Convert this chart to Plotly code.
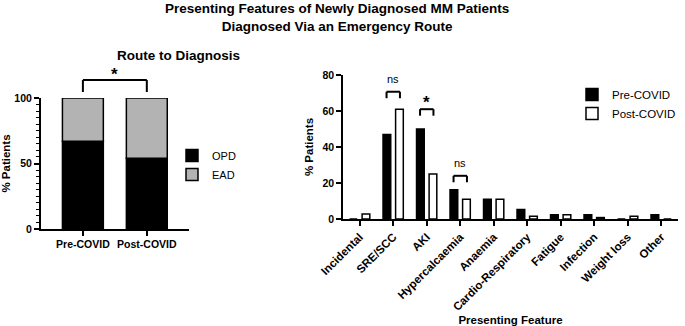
import plotly.graph_objects as go

# ---- Data ----
route_groups = ["Pre-COVID", "Post-COVID"]
opd_pct = [67, 54]
ead_pct = [33, 46]

features = ["Incidental", "SRE/SCC", "AKI", "Hypercalcaemia", "Anaemia",
            "Cardio-Respiratory", "Fatigue", "Infection", "Weight loss", "Other"]
pre_covid = [0, 47, 50, 16.3, 11, 5.3, 2.4, 2.4, 0, 2.4]
post_covid = [2.8, 61, 25, 11, 11, 1.5, 2.4, 0.8, 1.5, 0]

sig_features = ["SRE/SCC", "AKI", "Hypercalcaemia"]
sig_labels = ["ns", "*", "ns"]
sig_heights = [70.7, 61, 24]

left_sig_label = "*"

# ---- Style ----
W, H = 685, 326
FONT = "Liberation Sans, Arial, Helvetica, sans-serif"
BLACK = "#000000"
GREY = "#b3b3b3"

def px_x(p):
    return p / W

def px_y(p):
    return 1 - p / H

left_xrange = [-0.66, 1.66]
left_yrange = [0, 100]

fig = go.Figure()

fig.add_trace(go.Bar(
    x=route_groups, y=opd_pct, name="OPD", width=0.64,
    marker=dict(color=BLACK, line=dict(color=BLACK, width=1.5)),
    xaxis="x", yaxis="y", legend="legend"))
fig.add_trace(go.Bar(
    x=route_groups, y=ead_pct, base=opd_pct, name="EAD", width=0.64,
    marker=dict(color=GREY, line=dict(color=BLACK, width=1.5)),
    xaxis="x", yaxis="y", legend="legend"))

fig.add_trace(go.Bar(
    x=features, y=pre_covid, name="Pre-COVID", width=0.23, offset=-0.305,
    marker=dict(color=BLACK, line=dict(color=BLACK, width=1.5)),
    xaxis="x2", yaxis="y2", legend="legend2"))
fig.add_trace(go.Bar(
    x=features, y=post_covid, name="Post-COVID", width=0.23, offset=0.07,
    marker=dict(color="white", line=dict(color=BLACK, width=1.5)),
    xaxis="x2", yaxis="y2", legend="legend2"))

tickfont = dict(family=FONT, size=10.5, color=BLACK, weight="bold")
tickfont2 = dict(family=FONT, size=11.5, color=BLACK, weight="bold")
titlefont = dict(family=FONT, size=11.5, color=BLACK, weight="bold")
axis_common = dict(showline=True, linecolor=BLACK, linewidth=1.5, ticks="outside",
                   ticklen=5, tickwidth=1.5, tickcolor=BLACK, showgrid=False,
                   zeroline=False, fixedrange=True, automargin=False)

fig.update_layout(
    width=W, height=H,
    margin=dict(l=0, r=0, t=0, b=0),
    paper_bgcolor="white", plot_bgcolor="white",
    barmode="overlay",
    showlegend=True,
    hovermode=False,
    xaxis=dict(domain=[px_x(40.7), px_x(189)], range=left_xrange, type="category",
               anchor="y", tickfont=tickfont, **axis_common),
    yaxis=dict(domain=[px_y(229), px_y(98)], range=left_yrange, dtick=50, anchor="x",
               tickfont=tickfont,
               minor=dict(dtick=5, ticklen=3, tickwidth=1.2, tickcolor=BLACK, ticks="outside"),
               title=dict(text="% Patients", font=titlefont, standoff=4),
               **axis_common),
    xaxis2=dict(domain=[px_x(343), px_x(678)], range=[-0.5, 9.5], type="category",
                tickangle=-45, anchor="y2", tickfont=tickfont2,
                title=dict(text="Presenting Feature", font=titlefont, standoff=10),
                **axis_common),
    yaxis2=dict(domain=[px_y(219), px_y(75)], range=[0, 80], dtick=20, anchor="x2",
                tickfont=tickfont,
                title=dict(text="% Patients", font=titlefont, standoff=6),
                **axis_common),
    legend=dict(x=px_x(172), y=px_y(141), xanchor="left", yanchor="top",
                font=dict(family=FONT, size=11, color=BLACK), bgcolor="rgba(0,0,0,0)",
                tracegroupgap=0),
    legend2=dict(x=px_x(572), y=px_y(80), xanchor="left", yanchor="top",
                 font=dict(family=FONT, size=11.5, color=BLACK), bgcolor="rgba(0,0,0,0)"),
)

# Titles
fig.add_annotation(text="<b>Route to Diagnosis</b>", x=px_x(115), y=px_y(55),
                   xref="paper", yref="paper", showarrow=False, yanchor="middle",
                   font=dict(family=FONT, size=13.5, color=BLACK))
fig.add_annotation(text="<b>Presenting Features of Newly Diagnosed MM Patients<br>Diagnosed Via an Emergency Route</b>",
                   x=px_x(511), y=px_y(17), xref="paper", yref="paper", showarrow=False,
                   yanchor="middle",
                   font=dict(family=FONT, size=13.5, color=BLACK))

# Left significance bracket (domain coordinates derived from axis ranges)
span = left_xrange[1] - left_xrange[0]
xd0 = (0 - left_xrange[0]) / span
xd1 = (1 - left_xrange[0]) / span
top = 113.7 / left_yrange[1]
leg = 104.6 / left_yrange[1]
for (a, b, c, d) in [(xd0, leg, xd0, top), (xd0, top, xd1, top), (xd1, top, xd1, leg)]:
    fig.add_shape(type="line", xref="x domain", yref="y domain", x0=a, y0=b, x1=c, y1=d,
                  line=dict(color=BLACK, width=2))
fig.add_annotation(text="<b>" + left_sig_label + "</b>", xref="x domain", yref="y domain",
                   x=(xd0 + xd1) / 2, y=118 / left_yrange[1], showarrow=False,
                   yanchor="middle",
                   font=dict(family=FONT, size=17, color=BLACK))

# Right significance brackets
for feat, lab, h in zip(sig_features, sig_labels, sig_heights):
    i = features.index(feat)
    x0, x1 = i - 0.2, i + 0.2
    for (a, b, c, d) in [(x0, h - 3.6, x0, h), (x0, h, x1, h), (x1, h, x1, h - 3.6)]:
        fig.add_shape(type="line", xref="x2", yref="y2", x0=a, y0=b, x1=c, y1=d,
                      line=dict(color=BLACK, width=2))
    if lab == "*":
        fig.add_annotation(text="<b>*</b>", x=i, y=h + 4, xref="x2", yref="y2",
                           showarrow=False, yanchor="middle",
                           font=dict(family=FONT, size=17, color=BLACK))
    else:
        fig.add_annotation(text=lab, x=i, y=h + 7, xref="x2", yref="y2",
                           showarrow=False, yanchor="middle",
                           font=dict(family=FONT, size=11, color=BLACK))

fig.write_html("out.html", config={"displayModeBar": False},
               post_script="document.body.style.margin='0';document.body.style.padding='0';")
